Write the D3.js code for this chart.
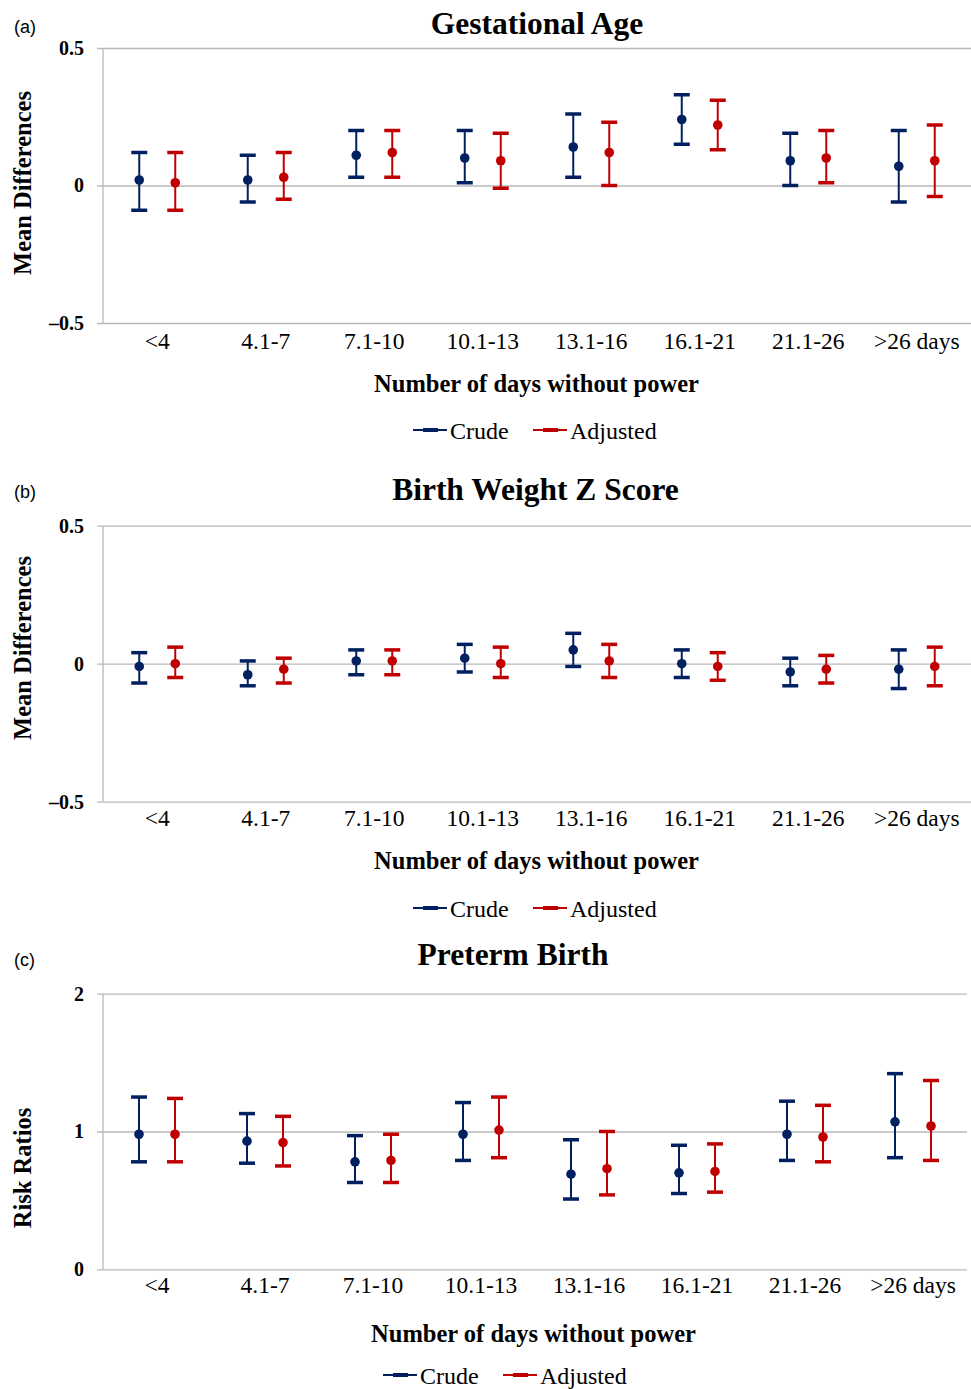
<!DOCTYPE html>
<html>
<head>
<meta charset="utf-8">
<script src="https://cdn.jsdelivr.net/npm/d3@7"></script>
<style>
    body { margin: 0; background: #fff; }
    svg { display: block; }
</style>
</head>
<body>
<svg id="chart" width="971" height="1389"></svg>
<script>
// categories along the x axis
const categories = ['<4', '4.1-7', '7.1-10', '10.1-13', '13.1-16', '16.1-21', '21.1-26', '>26 days'];
const seriesNames = ['Crude', 'Adjusted'];

// each entry: [estimate, lower CI, upper CI]
const gestAgeCrude = [[0.02, -0.09, 0.12], [0.02, -0.06, 0.11], [0.11, 0.03, 0.20], [0.10, 0.01, 0.20], [0.14, 0.03, 0.26], [0.24, 0.15, 0.33], [0.09, 0.00, 0.19], [0.07, -0.06, 0.20]];
const gestAgeAdjusted = [[0.01, -0.09, 0.12], [0.03, -0.05, 0.12], [0.12, 0.03, 0.20], [0.09, -0.01, 0.19], [0.12, 0.00, 0.23], [0.22, 0.13, 0.31], [0.10, 0.01, 0.20], [0.09, -0.04, 0.22]];

const birthWeightCrude = [[-0.01, -0.07, 0.04], [-0.04, -0.08, 0.01], [0.01, -0.04, 0.05], [0.02, -0.03, 0.07], [0.05, -0.01, 0.11], [0.00, -0.05, 0.05], [-0.03, -0.08, 0.02], [-0.02, -0.09, 0.05]];
const birthWeightAdjusted = [[0.00, -0.05, 0.06], [-0.02, -0.07, 0.02], [0.01, -0.04, 0.05], [0.00, -0.05, 0.06], [0.01, -0.05, 0.07], [-0.01, -0.06, 0.04], [-0.02, -0.07, 0.03], [-0.01, -0.08, 0.06]];

const pretermCrude = [[0.98, 0.78, 1.25], [0.93, 0.77, 1.13], [0.78, 0.63, 0.97], [0.98, 0.79, 1.21], [0.69, 0.51, 0.94], [0.70, 0.55, 0.90], [0.98, 0.79, 1.22], [1.07, 0.81, 1.42]];
const pretermAdjusted = [[0.98, 0.78, 1.24], [0.92, 0.75, 1.11], [0.79, 0.63, 0.98], [1.01, 0.81, 1.25], [0.73, 0.54, 1.00], [0.71, 0.56, 0.91], [0.96, 0.78, 1.19], [1.04, 0.79, 1.37]];

// y tick values
const meanDiffTicks = [-0.5, 0, 0.5];
const riskRatioTicks = [0, 1, 2];

(function () {

    const svg = d3.select('#chart');
    const serif = '"Liberation Serif", "Times New Roman", serif';
    const sans = '"Liberation Sans", Arial, sans-serif';
    const colors = { Crude: '#002060', Adjusted: '#C00000' };
    const gridColor = '#b8b8b8';

    const panels = [
        {
            tag: '(a)', tagY: 33,
            title: 'Gestational Age', titleX: 537, titleY: 34,
            yLabel: 'Mean Differences', yLabelY: 183,
            top: 48, bottom: 323, right: 971,
            domain: [-0.5, 0.5], ticks: meanDiffTicks,
            series: { Crude: gestAgeCrude, Adjusted: gestAgeAdjusted },
            tickY: 349, xLabelX: 536.5, xLabelY: 392,
            legendX: 413, legendY: 430
        },
        {
            tag: '(b)', tagY: 498,
            title: 'Birth Weight Z Score', titleX: 535.5, titleY: 500,
            yLabel: 'Mean Differences', yLabelY: 648,
            top: 525.7, bottom: 801.7, right: 971,
            domain: [-0.5, 0.5], ticks: meanDiffTicks,
            series: { Crude: birthWeightCrude, Adjusted: birthWeightAdjusted },
            tickY: 826, xLabelX: 536.5, xLabelY: 869,
            legendX: 413, legendY: 908
        },
        {
            tag: '(c)', tagY: 966,
            title: 'Preterm Birth', titleX: 513, titleY: 965,
            yLabel: 'Risk Ratios', yLabelY: 1168,
            top: 993.7, bottom: 1269.3, right: 967,
            domain: [0, 2], ticks: riskRatioTicks,
            series: { Crude: pretermCrude, Adjusted: pretermAdjusted },
            tickY: 1293, xLabelX: 533.5, xLabelY: 1342,
            legendX: 383, legendY: 1375
        }
    ];

    const left = 103;

    function fmt (d) {
        return d < 0 ? '\u2013' + Math.abs(d) : String(d);
    }

    function drawPanel (p) {
        const g = svg.append('g');

        const x = d3.scaleBand().domain(categories).range([left, p.right]);
        const xOffset = d3.scalePoint().domain(seriesNames).range([-18, 18]);
        const y = d3.scaleLinear().domain(p.domain).range([p.bottom, p.top]);

        // gridlines + tick marks + labels
        const yAxis = g.append('g')
            .attr('transform', `translate(${left - 6},0)`)
            .call(d3.axisLeft(y).tickValues(p.ticks).tickSize(-(p.right - left + 6)).tickPadding(13).tickFormat(fmt));
        yAxis.select('.domain').remove();
        yAxis.selectAll('.tick line').attr('stroke', gridColor).attr('stroke-width', 1.3);
        yAxis.selectAll('.tick text')
            .attr('fill', '#000')
            .attr('font-family', serif)
            .attr('font-weight', 'bold')
            .attr('font-size', 20);

        // vertical axis line
        g.append('line')
            .attr('x1', left).attr('x2', left)
            .attr('y1', p.top).attr('y2', p.bottom)
            .attr('stroke', gridColor).attr('stroke-width', 1.3);

        // category labels
        const xAxis = g.append('g')
            .attr('transform', `translate(0,${p.tickY})`)
            .call(d3.axisBottom(x).tickSize(0).tickPadding(0));
        xAxis.select('.domain').remove();
        xAxis.selectAll('.tick text')
            .attr('y', 0).attr('dy', 0)
            .attr('fill', '#000')
            .attr('font-family', serif)
            .attr('font-size', 23.5);

        // error bars
        seriesNames.forEach((name) => {
            const rows = p.series[name].map((v, i) => ({ cat: categories[i], est: v[0], lo: v[1], hi: v[2] }));
            const sg = g.append('g').attr('stroke', colors[name]).attr('fill', colors[name]);
            const cx = (d) => x(d.cat) + x.bandwidth() / 2 + xOffset(name);

            sg.selectAll('line.whisker').data(rows).join('line')
                .attr('class', 'whisker')
                .attr('x1', cx).attr('x2', cx)
                .attr('y1', (d) => y(d.lo)).attr('y2', (d) => y(d.hi))
                .attr('stroke-width', 2);

            ['lo', 'hi'].forEach((k) => {
                sg.selectAll(`line.cap-${k}`).data(rows).join('line')
                    .attr('class', `cap-${k}`)
                    .attr('x1', (d) => cx(d) - 8).attr('x2', (d) => cx(d) + 8)
                    .attr('y1', (d) => y(d[k])).attr('y2', (d) => y(d[k]))
                    .attr('stroke-width', 3.5);
            });

            sg.selectAll('circle').data(rows).join('circle')
                .attr('cx', cx).attr('cy', (d) => y(d.est))
                .attr('r', 4.8)
                .attr('stroke', 'none');
        });

        // texts
        g.append('text')
            .attr('x', 14).attr('y', p.tagY)
            .attr('font-family', sans).attr('font-size', 18)
            .text(p.tag);

        g.append('text')
            .attr('x', p.titleX).attr('y', p.titleY)
            .attr('text-anchor', 'middle')
            .attr('font-family', serif).attr('font-weight', 'bold').attr('font-size', 31.5)
            .text(p.title);

        g.append('text')
            .attr('transform', `translate(31,${p.yLabelY}) rotate(-90)`)
            .attr('text-anchor', 'middle')
            .attr('font-family', serif).attr('font-weight', 'bold').attr('font-size', 24.5)
            .text(p.yLabel);

        g.append('text')
            .attr('x', p.xLabelX).attr('y', p.xLabelY)
            .attr('text-anchor', 'middle')
            .attr('font-family', serif).attr('font-weight', 'bold').attr('font-size', 24.5)
            .text('Number of days without power');

        // legend
        const legend = g.append('g').attr('transform', `translate(${p.legendX},${p.legendY})`);
        const legendStep = { Crude: 0, Adjusted: 120 };
        seriesNames.forEach((name) => {
            const lg = legend.append('g').attr('transform', `translate(${legendStep[name]},0)`);
            lg.append('line').attr('x1', 0).attr('x2', 34).attr('y1', 0).attr('y2', 0)
                .attr('stroke', colors[name]).attr('stroke-width', 2);
            lg.append('line').attr('x1', 10).attr('x2', 25).attr('y1', 0).attr('y2', 0)
                .attr('stroke', colors[name]).attr('stroke-width', 4);
            lg.append('text').attr('x', 37).attr('y', 8.5)
                .attr('font-family', serif).attr('font-size', 24)
                .text(name);
        });
    }

    panels.forEach(drawPanel);

})();
</script>
</body>
</html>
